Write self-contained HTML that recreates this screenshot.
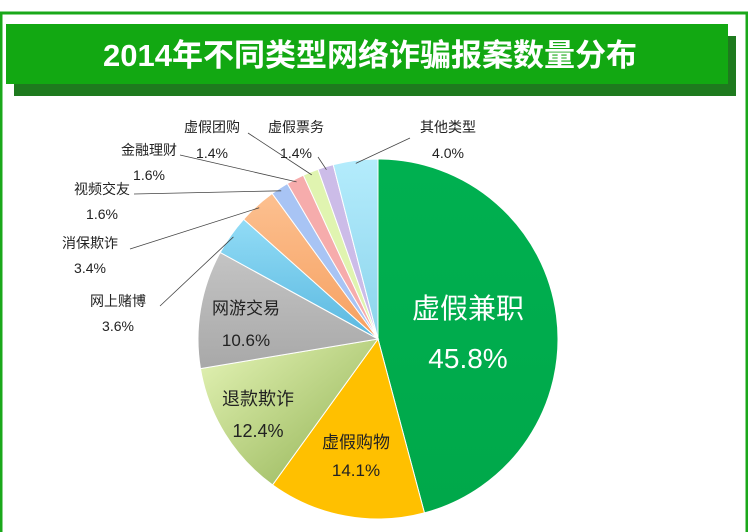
<!DOCTYPE html>
<html><head><meta charset="utf-8"><style>
html,body{margin:0;padding:0;background:#fff;width:748px;height:532px;overflow:hidden}
svg{display:block;font-family:"Liberation Sans","Noto Sans CJK SC",sans-serif}
</style></head><body>
<svg id="c" width="748" height="532">
<defs>
<linearGradient id="gG" x1="0" y1="0" x2="0" y2="1"><stop offset="0" stop-color="#00b050"/><stop offset="1" stop-color="#00a84a"/></linearGradient>
<linearGradient id="gRef" x1="0" y1="0" x2="1" y2="1"><stop offset="0" stop-color="#e6f5b8"/><stop offset="1" stop-color="#8fb050"/></linearGradient>
<linearGradient id="gGray" x1="0" y1="0" x2="0" y2="1"><stop offset="0" stop-color="#c4c4c4"/><stop offset="1" stop-color="#a8a8a8"/></linearGradient>
<linearGradient id="gCyan" x1="0" y1="0" x2="0" y2="1"><stop offset="0" stop-color="#b4ecfc"/><stop offset="1" stop-color="#8cd4ec"/></linearGradient>
<linearGradient id="gBlue" x1="0" y1="0" x2="0" y2="1"><stop offset="0" stop-color="#92dcf6"/><stop offset="1" stop-color="#5ab8e0"/></linearGradient>
<linearGradient id="gOr" x1="0" y1="0" x2="0" y2="1"><stop offset="0" stop-color="#fcc090"/><stop offset="1" stop-color="#f6a060"/></linearGradient>
</defs>
<rect x="1" y="13" width="746" height="530" fill="none" stroke="#1aa81a" stroke-width="3"/>
<rect x="14" y="36" width="722" height="60" fill="#1e7a1e"/>
<rect x="6" y="24" width="722" height="60" fill="#12a812"/>
<text x="370" y="66" text-anchor="middle" font-size="31" font-weight="bold" fill="#fff">2014年不同类型网络诈骗报案数量分布</text>
<g id="slices"></g>
<g id="labels"></g>
</svg>
<script>
const categories=["虚假兼职","虚假购物","退款欺诈","网游交易","网上赌博","消保欺诈","视频交友","金融理财","虚假团购","虚假票务","其他类型"];
const values=[45.8,14.1,12.4,10.6,3.6,3.4,1.6,1.6,1.4,1.4,4.0];
const pctLabels=["45.8%","14.1%","12.4%","10.6%","3.6%","3.4%","1.6%","1.6%","1.4%","1.4%","4.0%"];
const fills=["url(#gG)","#ffc000","url(#gRef)","url(#gGray)","url(#gBlue)","url(#gOr)","#a8c4f4","#f6acac","#e0f4b0","#ccbce8","url(#gCyan)"];
const cx=378,cy=339,r=180;
const total=values.reduce((a,b)=>a+b,0);
function ang(v){return v/total*2*Math.PI;}
function pt(a,rr){return [cx+rr*Math.sin(a),cy-rr*Math.cos(a)];}
const NS="http://www.w3.org/2000/svg";
const sg=document.getElementById('slices'),lg=document.getElementById('labels');
// label layout: [textX,textY,pctX,pctY,lineX,lineY,inside,size,color]
const lay=[
[468,318,468,368,0,0,1,28,"#fff"],
[356,448,356,476,0,0,1,17,"#222"],
[258,405,258,437,0,0,1,18,"#222"],
[246,314,246,346,0,0,1,17,"#222"],
[118,306,118,331,160,306,0,14,"#222"],
[90,248,90,273,130,249,0,14,"#222"],
[102,194,102,219,134,194,0,14,"#222"],
[149,155,149,180,180,155,0,14,"#222"],
[212,132,212,158,248,133,0,14,"#222"],
[296,132,296,158,318,157,0,14,"#222"],
[448,132,448,158,410,138,0,14,"#222"]];
let a0=0;
values.forEach((v,i)=>{
  const a1=a0+ang(v);
  const p0=pt(a0,r),p1=pt(a1,r);
  const large=(a1-a0)>Math.PI?1:0;
  const p=document.createElementNS(NS,'path');
  p.setAttribute('d',`M${cx},${cy}L${p0[0]},${p0[1]}A${r},${r} 0 ${large} 1 ${p1[0]},${p1[1]}Z`);
  p.setAttribute('fill',fills[i]);
  p.setAttribute('stroke','#fff');p.setAttribute('stroke-width','1');
  
  
  sg.appendChild(p);
  const L=lay[i],mid=(a0+a1)/2;
  if(!L[6]){
    const e=pt(mid,r-3);
    const ln=document.createElementNS(NS,'polyline');
    ln.setAttribute('points',`${L[4]},${L[5]} ${e[0]},${e[1]}`);
    ln.setAttribute('fill','none');ln.setAttribute('stroke','#444');ln.setAttribute('stroke-width','0.8');
    
    
    lg.appendChild(ln);
  }
  [[categories[i],L[0],L[1]],[pctLabels[i],L[2],L[3]]].forEach((t,k)=>{
    const tx=document.createElementNS(NS,'text');
    tx.setAttribute('x',t[1]);tx.setAttribute('y',t[2]);
    tx.setAttribute('text-anchor','middle');
    tx.setAttribute('font-size',L[7]);tx.setAttribute('fill',L[8]);
    tx.textContent=t[0];
    
    
    lg.appendChild(tx);
  });
  a0=a1;
});
</script>
</body></html>
